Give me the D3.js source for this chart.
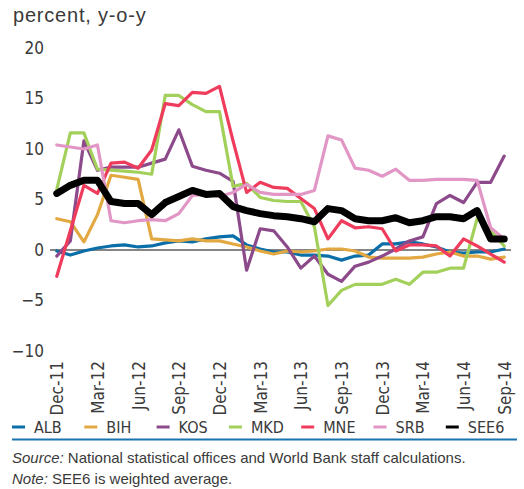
<!DOCTYPE html>
<html>
<head>
<meta charset="utf-8">
<script src="https://cdn.jsdelivr.net/npm/d3@7/dist/d3.min.js"></script>
<style>
  html, body { margin: 0; padding: 0; background: #fff; }
  svg { display: block; }
  .narrow { font-family: "Liberation Sans Narrow", "Arial Narrow", "DejaVu Sans Condensed", sans-serif; }
  .reg { font-family: "Liberation Sans", Arial, sans-serif; }
</style>
</head>
<body>
<svg id="chart" width="524" height="489"></svg>
<script>
// Monthly, Dec-11 .. Sep-14
const months = ["Dec-11","Jan-12","Feb-12","Mar-12","Apr-12","May-12","Jun-12","Jul-12","Aug-12","Sep-12","Oct-12","Nov-12",
  "Dec-12","Jan-13","Feb-13","Mar-13","Apr-13","May-13","Jun-13","Jul-13","Aug-13","Sep-13","Oct-13","Nov-13",
  "Dec-13","Jan-14","Feb-14","Mar-14","Apr-14","May-14","Jun-14","Jul-14","Aug-14","Sep-14"];
const xTickLabels = ["Dec-11","Mar-12","Jun-12","Sep-12","Dec-12","Mar-13","Jun-13","Sep-13","Dec-13","Mar-14","Jun-14","Sep-14"];
const yTicks = [-10, -5, 0, 5, 10, 15, 20];

// Consumer price inflation, percent y-o-y
const ALB  = [-0.1,-0.5,-0.1,0.2,0.4,0.5,0.3,0.4,0.7,0.9,0.8,1.1,1.3,1.4,0.5,0.1,-0.2,-0.2,-0.5,-0.5,-0.6,-1.0,-0.6,-0.5,0.6,0.6,0.8,0.6,0.3,-0.2,-0.3,-0.2,-0.2,0.1];
const BIH  = [3.1,2.8,0.8,3.5,7.4,7.2,7.0,1.1,1.0,0.9,1.1,0.9,0.9,0.6,0.3,-0.1,-0.4,-0.1,-0.2,-0.1,0.1,0.1,-0.1,-0.7,-0.8,-0.8,-0.8,-0.7,-0.4,-0.2,-0.6,-0.6,-0.9,-0.7];
const KOS  = [-0.6,0.9,10.8,7.9,8.2,8.2,8.2,8.6,9.0,11.9,8.3,7.9,7.6,6.8,-2.0,2.1,1.9,0.3,-1.8,-0.6,-2.4,-3.1,-1.6,-1.2,-0.6,0.1,0.9,1.3,4.6,5.4,4.7,6.7,6.7,9.3];
const MKD  = [6.0,11.6,11.6,8.0,7.9,7.8,7.7,7.5,15.3,15.3,14.4,13.7,13.7,6.3,6.6,5.2,4.9,4.8,4.8,2.3,-5.5,-4.0,-3.4,-3.4,-3.4,-2.9,-3.4,-2.2,-2.2,-1.8,-1.8,3.1,1.9,0.4];
const MNE  = [-2.6,1.9,6.4,5.6,8.6,8.7,8.1,9.9,14.5,14.3,15.6,15.5,16.2,10.8,5.7,6.7,6.2,6.1,5.1,4.1,1.1,2.9,2.2,2.3,2.1,-0.1,0.5,0.5,0.4,-0.6,1.1,0.4,-0.4,-1.2];
const SRB  = [10.4,10.2,10.0,10.4,2.9,2.7,2.9,3.0,2.9,3.6,5.4,5.5,5.3,5.7,6.5,5.7,5.5,5.5,5.5,5.9,11.3,10.9,8.1,7.9,7.3,8.0,6.9,6.9,7.0,7.0,7.0,6.9,2.2,1.1];
const SEE6 = [5.6,6.4,6.9,6.9,4.8,4.6,4.6,3.5,4.7,5.3,5.9,5.5,5.6,4.3,3.9,3.6,3.4,3.3,3.1,2.8,4.1,3.9,3.1,2.9,2.9,3.2,2.7,2.9,3.3,3.3,3.1,3.9,1.1,1.1];

const seriesNames = ["ALB","BIH","KOS","MKD","MNE","SRB","SEE6"];
const seriesValues = [ALB, BIH, KOS, MKD, MNE, SRB, SEE6];
const colors = ["#0a6ea8","#e2a943","#8d4a8b","#a2d05b","#ef3b5c","#e196c5","#000000"];
const widths = [3.2, 3.2, 3.2, 3.2, 3.2, 3.2, 7];

const svg = d3.select("#chart");
const textColor = "#3a3a3a";

const x = d3.scalePoint().domain(months).range([50, 511]).padding(0.5);
const y = d3.scaleLinear().domain([-10, 20]).range([351, 48]);

// axis title
svg.append("text").attr("class", "reg")
  .attr("x", 13).attr("y", 22)
  .attr("font-size", 20).attr("letter-spacing", 0.8).attr("fill", textColor)
  .text("percent, y-o-y");

// y axis labels
const yAxis = svg.append("g").attr("class", "narrow")
  .attr("transform", "translate(44,0)")
  .call(d3.axisLeft(y).tickValues(yTicks).tickSize(0).tickPadding(0).tickFormat(d3.format("d")));
yAxis.select(".domain").remove();
yAxis.selectAll("text").attr("font-size", 17).attr("fill", textColor)
  .attr("font-family", null);

// x axis labels, rotated
const xAxis = svg.append("g").attr("class", "narrow")
  .attr("transform", "translate(0,361)")
  .call(d3.axisBottom(x).tickValues(xTickLabels).tickSize(0).tickPadding(0));
xAxis.select(".domain").remove();
xAxis.selectAll("text")
  .attr("font-size", 17).attr("fill", textColor).attr("font-family", null)
  .attr("transform", "rotate(-90)")
  .attr("text-anchor", "end")
  .attr("x", 0).attr("y", 0).attr("dx", 0).attr("dy", "0.35em");

// zero line
svg.append("line")
  .attr("x1", 50).attr("x2", 511)
  .attr("y1", y(0)).attr("y2", y(0))
  .attr("stroke", "#858585").attr("stroke-width", 2);

// series lines
const line = d3.line()
  .x((d, i) => x(months[i]))
  .y(d => y(d));

seriesValues.forEach((vals, k) => {
  svg.append("path")
    .datum(vals)
    .attr("d", line)
    .attr("fill", "none")
    .attr("stroke", colors[k])
    .attr("stroke-width", widths[k])
    .attr("stroke-linejoin", "round")
    .attr("stroke-linecap", "round");
});

// legend
const legend = svg.append("g").attr("class", "narrow");
seriesNames.forEach((name, k) => {
  const lx = 12 + k * 72.3;
  legend.append("line")
    .attr("x1", lx).attr("x2", lx + 13)
    .attr("y1", 427).attr("y2", 427)
    .attr("stroke", colors[k]).attr("stroke-width", 3);
  legend.append("text")
    .attr("x", lx + 22).attr("y", 433)
    .attr("font-size", 16).attr("fill", textColor)
    .text(name);
});

// rule under legend
svg.append("line")
  .attr("x1", 12).attr("x2", 517)
  .attr("y1", 439.5).attr("y2", 439.5)
  .attr("stroke", "#1a74b0").attr("stroke-width", 2);

// notes
const src = svg.append("text").attr("class", "reg")
  .attr("x", 12).attr("y", 463).attr("font-size", 15).attr("fill", textColor);
src.append("tspan").attr("font-style", "italic").text("Source:");
src.append("tspan").text(" National statistical offices and World Bank staff calculations.");

const note = svg.append("text").attr("class", "reg")
  .attr("x", 12).attr("y", 484).attr("font-size", 15).attr("fill", textColor);
note.append("tspan").attr("font-style", "italic").text("Note:");
note.append("tspan").text(" SEE6 is weighted average.");
</script>
</body>
</html>
